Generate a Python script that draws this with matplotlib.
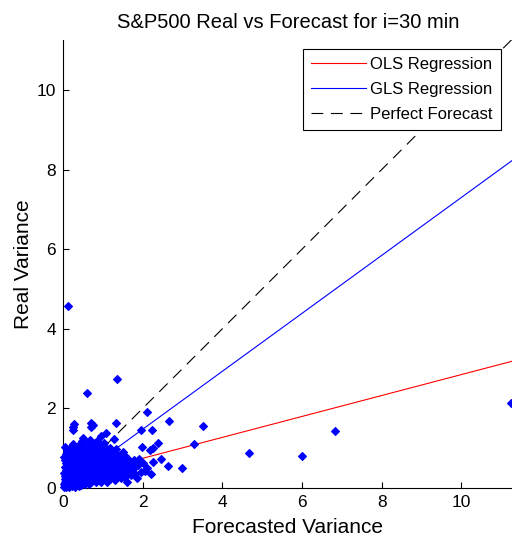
import matplotlib
matplotlib.use('Agg')
import matplotlib.pyplot as plt
import numpy as np

# forecasted vs realised variance
forecast_var = [
    # dense cluster near the origin, row by row
    0.02, 0.08, 0.15, 0.22, 0.30, 0.40,
    0.03, 0.10, 0.18, 0.27, 0.36, 0.45, 0.55, 0.66,
    0.05, 0.12, 0.20, 0.30, 0.40, 0.50, 0.60, 0.70, 0.82, 0.95, 1.10,
    0.04, 0.14, 0.25, 0.35, 0.46, 0.57, 0.68, 0.80, 0.92, 1.05, 1.18, 1.30, 1.45,
    0.06, 0.17, 0.28, 0.40, 0.52, 0.63, 0.75, 0.87, 0.99, 1.12, 1.25, 1.38, 1.55, 1.70,
    0.03, 0.13, 0.24, 0.36, 0.47, 0.59, 0.71, 0.83, 0.95, 1.08, 1.20, 1.33, 1.47, 1.62, 1.80, 1.95,
    0.07, 0.19, 0.31, 0.43, 0.55, 0.67, 0.79, 0.91, 1.03, 1.16, 1.30, 1.42, 1.58, 1.75, 2.05,
    0.04, 0.15, 0.27, 0.39, 0.50, 0.62, 0.74, 0.86, 0.98, 1.10, 1.24, 1.37, 1.52, 1.68, 1.88, 2.10,
    0.08, 0.20, 0.33, 0.45, 0.57, 0.70, 0.82, 0.94, 1.06, 1.20, 1.33, 1.50, 1.66, 1.80, 2.00,
    0.05, 0.16, 0.28, 0.40, 0.53, 0.65, 0.78, 0.90, 1.03, 1.17, 1.32, 1.45, 1.62, 1.78, 1.92,
    0.03, 0.13, 0.25, 0.37, 0.50, 0.62, 0.75, 0.88, 1.00, 1.14, 1.28, 1.42, 1.56,
    0.07, 0.19, 0.32, 0.45, 0.58, 0.72, 0.85, 0.98, 1.10, 1.25, 1.38, 1.50,
    0.10, 0.24, 0.40, 0.55, 0.68, 0.83, 0.96, 1.08, 1.20, 1.33,
    0.05, 0.18, 0.33, 0.50, 0.64, 0.78, 0.92, 1.05, 1.17,
    0.26, 0.42, 0.60, 0.75, 0.90, 1.02,
    0.48, 0.67, 0.85, 1.28,
    # scattered points
    0.12, 0.61, 1.36, 2.12, 1.34, 2.65, 3.51, 2.24, 1.95, 3.30,
    4.66, 6.82, 6.00, 11.26, 3.00, 2.39, 2.27, 2.46, 2.63, 1.98,
    0.26, 0.26, 0.28, 0.71, 0.71, 0.75, 0.22, 2.19, 2.27, 1.08,
    0.50, 0.95, 1.60, 1.85, 2.20,
]
real_var = [
    0.02, 0.03, 0.02, 0.04, 0.03, 0.05,
    0.09, 0.08, 0.10, 0.07, 0.09, 0.08, 0.10, 0.09,
    0.15, 0.16, 0.14, 0.16, 0.15, 0.14, 0.16, 0.15, 0.14, 0.16, 0.15,
    0.22, 0.23, 0.21, 0.23, 0.22, 0.21, 0.23, 0.22, 0.21, 0.23, 0.22, 0.21, 0.24,
    0.30, 0.29, 0.31, 0.30, 0.29, 0.31, 0.30, 0.29, 0.31, 0.30, 0.29, 0.31, 0.28, 0.32,
    0.38, 0.39, 0.37, 0.38, 0.39, 0.37, 0.38, 0.39, 0.37, 0.38, 0.39, 0.37, 0.38, 0.40, 0.36, 0.39,
    0.46, 0.45, 0.47, 0.46, 0.45, 0.47, 0.46, 0.45, 0.47, 0.46, 0.45, 0.47, 0.44, 0.48, 0.42,
    0.54, 0.55, 0.53, 0.54, 0.55, 0.53, 0.54, 0.55, 0.53, 0.54, 0.55, 0.53, 0.56, 0.52, 0.57, 0.50,
    0.62, 0.61, 0.63, 0.62, 0.61, 0.63, 0.62, 0.61, 0.63, 0.62, 0.61, 0.64, 0.60, 0.66, 0.62,
    0.70, 0.71, 0.69, 0.70, 0.71, 0.69, 0.70, 0.71, 0.69, 0.70, 0.72, 0.68, 0.73, 0.70, 0.74,
    0.78, 0.79, 0.77, 0.78, 0.79, 0.77, 0.78, 0.79, 0.77, 0.78, 0.80, 0.76, 0.81,
    0.86, 0.87, 0.85, 0.86, 0.87, 0.85, 0.86, 0.87, 0.85, 0.88, 0.84, 0.90,
    0.94, 0.93, 0.95, 0.94, 0.93, 0.95, 0.94, 0.96, 0.92, 0.97,
    1.02, 1.01, 1.03, 1.02, 1.01, 1.03, 1.02, 1.04, 1.00,
    1.10, 1.11, 1.09, 1.12, 1.10, 1.13,
    1.18, 1.20, 1.17, 1.22,
    4.58, 2.40, 2.74, 1.91, 1.64, 1.68, 1.56, 1.46, 1.46, 1.10,
    0.87, 1.43, 0.80, 2.14, 0.51, 1.14, 1.00, 0.73, 0.55, 1.04,
    1.53, 1.46, 1.60, 1.63, 1.53, 1.58, 1.00, 0.95, 0.65, 1.38,
    1.25, 1.30, 0.15, 0.25, 0.35,
]

# fitted lines: intercept, slope
ols_coef = (0.22, 0.263)
gls_coef = (0.02, 0.728)

x_max = 11.3
y_max = 11.26

plt.rcParams['font.family'] = ['Liberation Sans', 'DejaVu Sans']
plt.rcParams['lines.scale_dashes'] = False

fig = plt.figure(figsize=(5.12, 5.38), dpi=100)
ax = fig.add_axes([63 / 512, 1 - 488 / 538, 450 / 512, 448 / 538])

xs = np.array([0, x_max])
ax.plot(xs, ols_coef[0] + ols_coef[1] * xs, color=(1, 0, 0), lw=0.8,
        label='OLS Regression', zorder=2)
ax.plot(xs, gls_coef[0] + gls_coef[1] * xs, color=(0, 0, 1), lw=0.8,
        label='GLS Regression', zorder=2)
ax.plot(xs, xs, color='black', lw=0.8, dashes=(8.5, 5.5),
        label='Perfect Forecast', zorder=2)
ax.plot(forecast_var, real_var, 'D', color=(0, 0, 1), ms=3.8, mew=0.8,
        zorder=3, clip_on=False)

ax.set_xlim(0, x_max)
ax.set_ylim(0, y_max)
ax.set_xticks([0, 2, 4, 6, 8, 10])
ax.set_yticks([0, 2, 4, 6, 8, 10])
ax.spines['top'].set_visible(False)
ax.spines['right'].set_visible(False)
ax.tick_params(direction='in', length=4, width=0.8, labelsize=12.5, pad=5,
               colors='black')
for s in ('left', 'bottom'):
    ax.spines[s].set_linewidth(0.8)

ax.set_xlabel('Forecasted Variance', fontsize=15, labelpad=6)
ax.set_ylabel('Real Variance', fontsize=15, labelpad=3)
ax.set_title('S&P500 Real vs Forecast for i=30 min', fontsize=14.5, pad=9)

leg = ax.legend(loc='upper left', bbox_to_anchor=(303 / 512, 1 - 49 / 538),
                bbox_transform=fig.transFigure, borderaxespad=0,
                fontsize=12, frameon=True, fancybox=False, framealpha=1,
                edgecolor='black', handlelength=3.3, handletextpad=0.25,
                labelspacing=0.58, borderpad=0.5)
leg.get_frame().set_linewidth(0.8)

fig.savefig('out.png', dpi=100)
